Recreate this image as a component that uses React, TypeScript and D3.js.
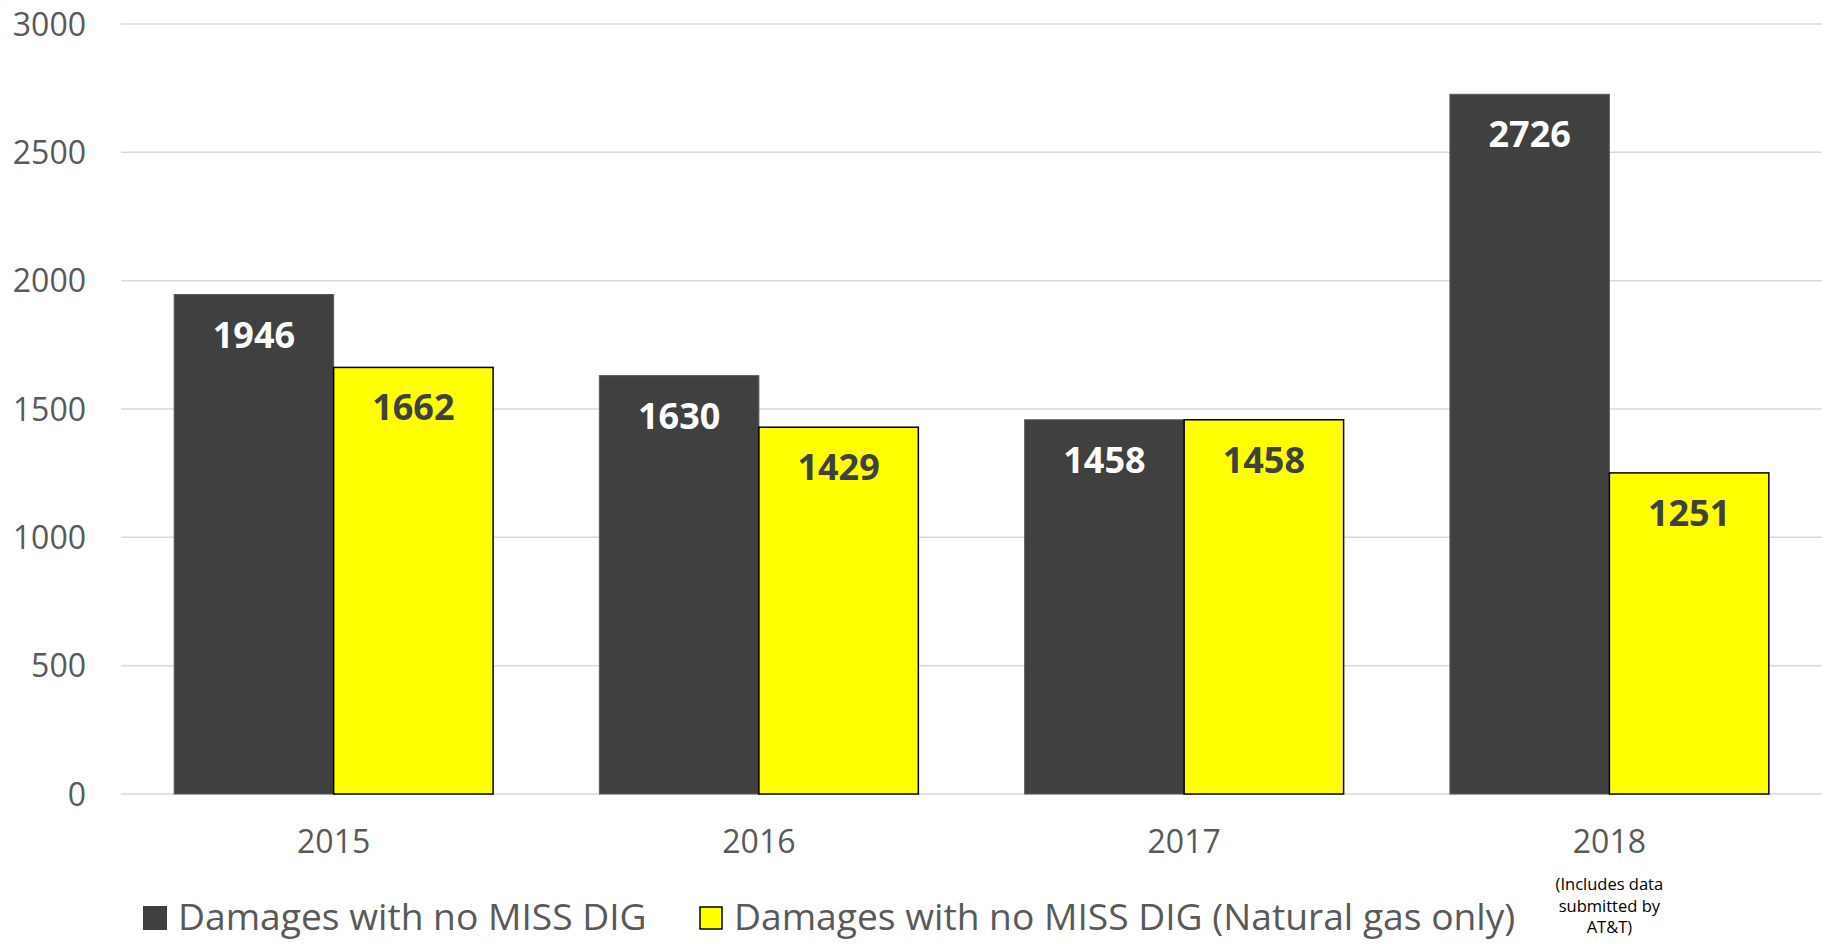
import { useMemo } from "react";
import * as d3 from "d3";

const years = ["2015", "2016", "2017", "2018"];
const seriesNames = [
  "Damages with no MISS DIG",
  "Damages with no MISS DIG (Natural gas only)",
];
const allDamages = [1946, 1630, 1458, 2726];
const gasOnly = [1662, 1429, 1458, 1251];
const yTicks = [0, 500, 1000, 1500, 2000, 2500, 3000];
const noteLines = ["(Includes data", "submitted by", "AT&T)"];

const W = 1835;
const H = 944;
const FONT = "'Open Sans', sans-serif";
const DARK = "#404040";
const YELLOW = "#ffff00";

export default function App() {
  const margin = { top: 24, right: 13, bottom: 150, left: 121 };
  const innerW = W - margin.left - margin.right;
  const innerH = H - margin.top - margin.bottom;

  const { x, x1, y } = useMemo(() => {
    const x = d3
      .scaleBand()
      .domain(years)
      .range([0, innerW])
      .paddingInner(0.25)
      .paddingOuter(0.125);
    const x1 = d3
      .scaleBand()
      .domain(["a", "b"])
      .range([0, x.bandwidth()]);
    const y = d3.scaleLinear().domain([0, 3000]).range([innerH, 0]);
    return { x, x1, y };
  }, [innerW, innerH]);

  const groups = [
    { key: "a", values: allDamages, fill: DARK, stroke: "#595959", sw: 1, text: "#ffffff" },
    { key: "b", values: gasOnly, fill: YELLOW, stroke: "#000000", sw: 1.5, text: DARK },
  ];

  return (
    <svg
      width={W}
      height={H}
      style={{ position: "absolute", left: 0, top: 0, background: "#fff" }}
      fontFamily={FONT}
    >
      <g transform={`translate(${margin.left},${margin.top})`}>
        {/* gridlines */}
        {yTicks.map((t) => (
          <line
            key={t}
            x1={0}
            x2={innerW}
            y1={y(t)}
            y2={y(t)}
            stroke="#d9d9d9"
            strokeWidth={1.5}
          />
        ))}
        {yTicks.map((t) => (
          <text
            key={t}
            x={-35}
            y={y(t)}
            dy="0.36em"
            textAnchor="end"
            fontSize={32}
            fill="#595959"
          >
            {t}
          </text>
        ))}

        {/* bars */}
        {groups.map((g) =>
          years.map((yr, i) => {
            const bx = (x(yr) ?? 0) + (x1(g.key) ?? 0);
            const by = y(g.values[i]);
            return (
              <g key={g.key + yr}>
                <rect
                  x={bx}
                  y={by}
                  width={x1.bandwidth()}
                  height={innerH - by}
                  fill={g.fill}
                  stroke={g.stroke}
                  strokeWidth={g.sw}
                />
                <text
                  x={bx + x1.bandwidth() / 2}
                  y={by + 53}
                  textAnchor="middle"
                  fontSize={36}
                  fontWeight="bold"
                  fill={g.text}
                >
                  {g.values[i]}
                </text>
              </g>
            );
          }),
        )}

        {/* x axis labels */}
        {years.map((yr) => (
          <text
            key={yr}
            x={(x(yr) ?? 0) + x.bandwidth() / 2}
            y={innerH + 59}
            textAnchor="middle"
            fontSize={32}
            fill="#595959"
          >
            {yr}
          </text>
        ))}
        {noteLines.map((l, i) => (
          <text
            key={l}
            x={(x("2018") ?? 0) + x.bandwidth() / 2}
            y={innerH + 96 + i * 21.5}
            textAnchor="middle"
            fontSize={16.5}
            fill="#000"
          >
            {l}
          </text>
        ))}
      </g>

      {/* legend */}
      <g transform="translate(143,906)">
        <rect x={0} y={0} width={24} height={24} fill={DARK} />
        <text x={35} y={24} fontSize={37.2} fill="#595959">
          {seriesNames[0]}
        </text>
        <rect
          x={557}
          y={1}
          width={22}
          height={22}
          fill={YELLOW}
          stroke="#000"
          strokeWidth={1.5}
        />
        <text x={591} y={24} fontSize={37.2} fill="#595959">
          {seriesNames[1]}
        </text>
      </g>
    </svg>
  );
}
